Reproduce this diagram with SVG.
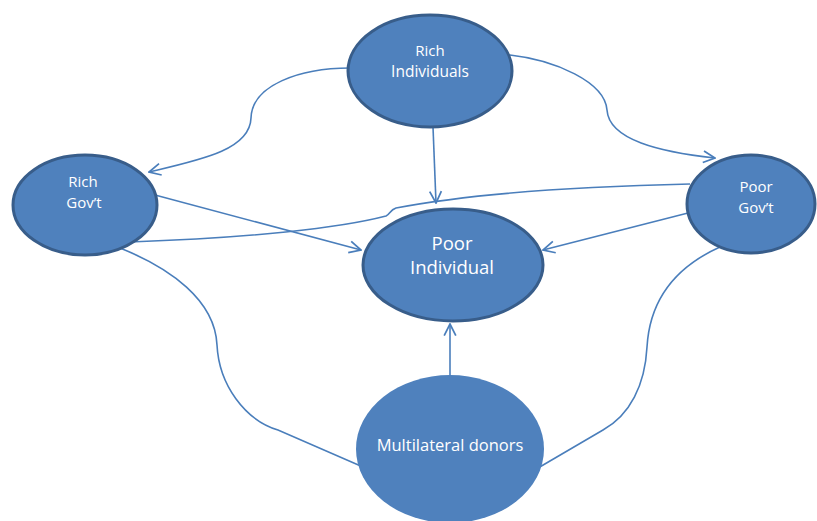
<svg xmlns="http://www.w3.org/2000/svg" width="817" height="521" viewBox="0 0 817 521">
<defs>
<marker id="arr" markerUnits="userSpaceOnUse" markerWidth="14" markerHeight="14" viewBox="0 0 12 12" refX="11" refY="6" orient="auto">
<path d="M1,1 L11,6 L1,11" fill="none" stroke="#4A7EBB" stroke-width="1.5"/>
</marker>
<style>
.c{fill:none;stroke:#4A7EBB;stroke-width:1.6}
.n{fill:#4F81BD;stroke:#385D8A;stroke-width:3}
.t{fill:#FFFFFF;font-family:"Open Sans","Liberation Sans",sans-serif;text-anchor:middle}
</style>
</defs>
<rect width="817" height="521" fill="#FFFFFF"/>
<g id="connectors">
<path class="c" d="M350 68 C300 68 252 85 251 118 C250 150 200 160 149 172" marker-end="url(#arr)"/>
<path class="c" d="M510 55 C555 60 605 82 607 110 C609 140 660 152 715 158" marker-end="url(#arr)"/>
<path class="c" d="M433 127 L436 203" marker-end="url(#arr)"/>
<path class="c" d="M155 195 L361 250" marker-end="url(#arr)"/>
<path class="c" d="M688 213 L543 250" marker-end="url(#arr)"/>
<path class="c" d="M130 242 C250 238 340 228 386 216 C390 214 390 210 396 208 C480 192 600 186 690 184"/>
<path class="c" d="M120 248 C170 268 215 300 217 345 C219 385 245 420 278 430 L363 467"/>
<path class="c" d="M720 247 C680 265 650 295 647 347 C645 385 630 415 603 430 L538 468"/>
<path class="c" d="M450 378 L450 324" marker-end="url(#arr)"/>
</g>
<g id="rich-individuals">
<ellipse class="n" cx="430" cy="71" rx="82" ry="56"/>
<text class="t" x="430" y="56" font-size="15">Rich</text>
<text class="t" x="430" y="77" font-size="15.5">Individuals</text>
</g>
<g id="rich-govt">
<ellipse class="n" cx="85" cy="205" rx="72" ry="50"/>
<text class="t" x="83" y="187" font-size="15">Rich</text>
<text class="t" x="84" y="208" font-size="15">Gov’t</text>
</g>
<g id="poor-govt">
<ellipse class="n" cx="751" cy="204" rx="64" ry="49"/>
<text class="t" x="756" y="192" font-size="15">Poor</text>
<text class="t" x="756" y="213" font-size="15">Gov’t</text>
</g>
<g id="poor-individual">
<ellipse class="n" cx="453" cy="265" rx="90" ry="56"/>
<text class="t" x="452" y="250" font-size="18.5">Poor</text>
<text class="t" x="452" y="274" font-size="18.5">Individual</text>
</g>
<g id="multilateral-donors">
<ellipse cx="450" cy="449" rx="94" ry="74" fill="#4F81BD"/>
<text class="t" x="450" y="451" font-size="16.5">Multilateral donors</text>
</g>
</svg>
